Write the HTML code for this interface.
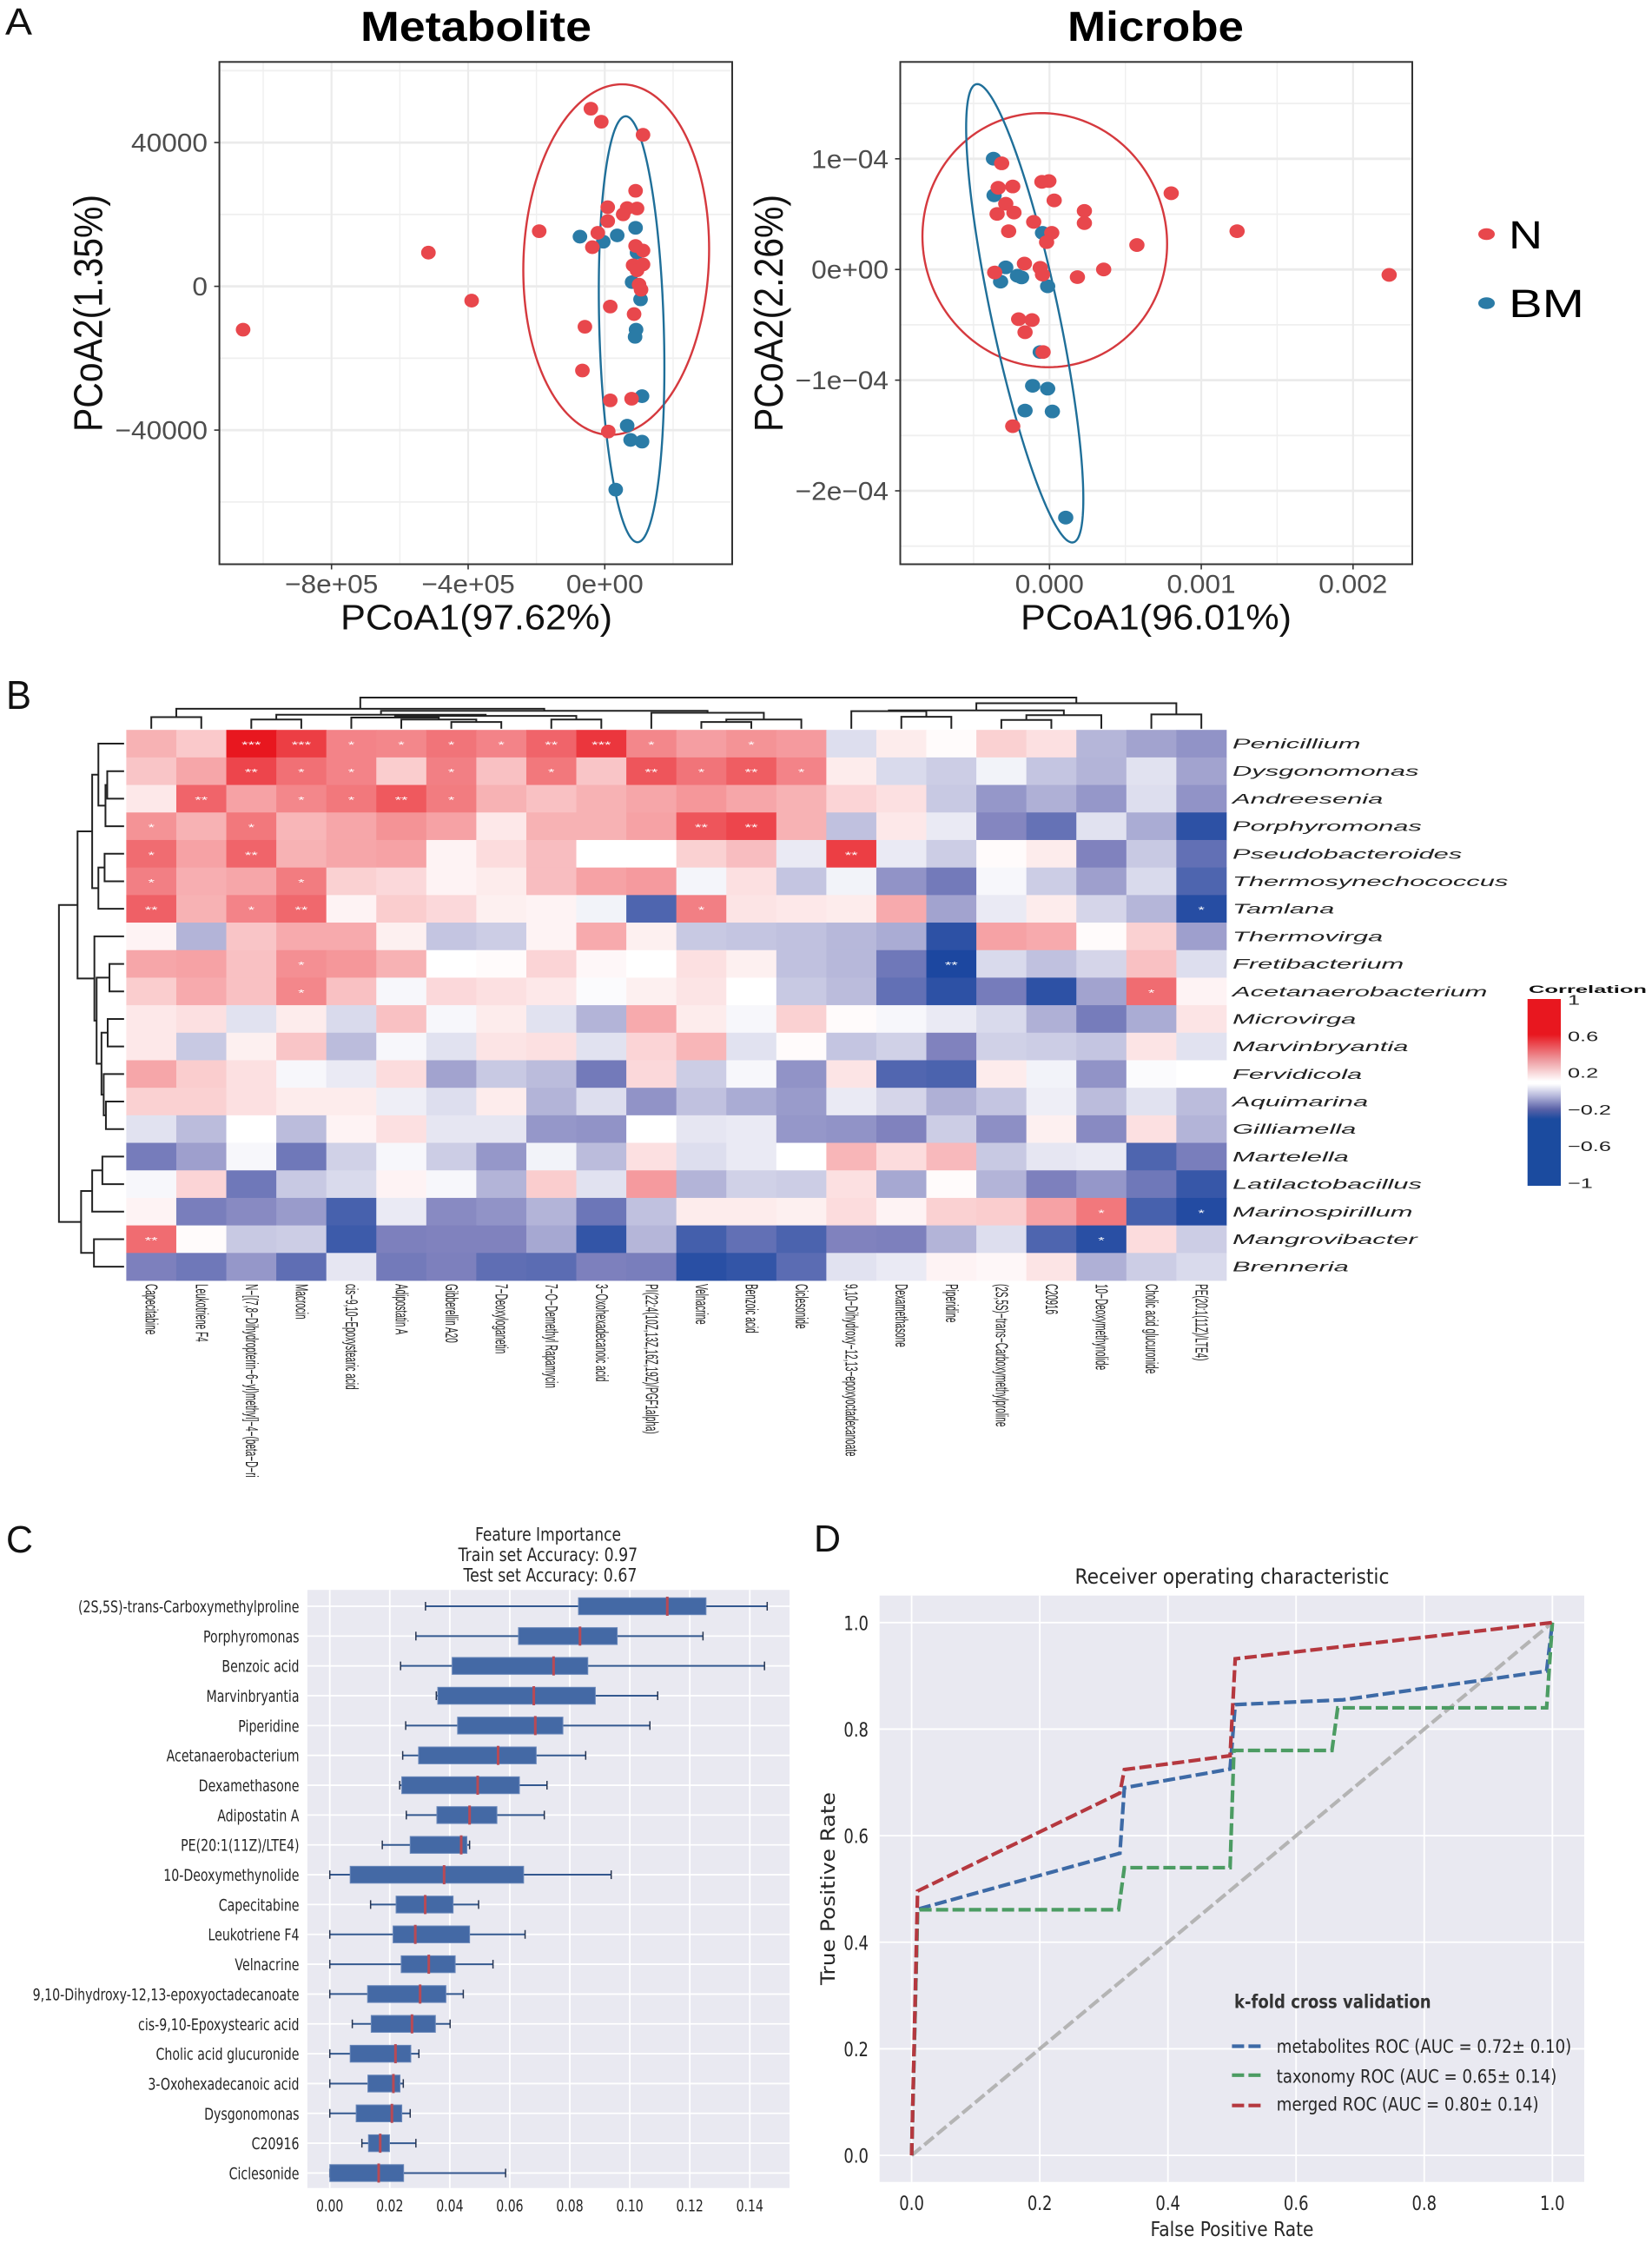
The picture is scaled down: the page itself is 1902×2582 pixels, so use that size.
<!DOCTYPE html>
<html lang="en">
<head>
<meta charset="utf-8">
<title>Metabolite and microbe analysis figure</title>
<style>
html,body{margin:0;padding:0;background:#fff;}
svg{display:block;}
.ls{font-family:"Liberation Sans",sans-serif;}
.dj{font-family:"DejaVu Sans",sans-serif;}
</style>
</head>
<body>
<svg id="figure" xmlns="http://www.w3.org/2000/svg" width="1902" height="2582" viewBox="0 0 1902 2582">
<rect x="0" y="0" width="1902" height="2582" fill="#ffffff"/>
<g class="ls" fill="#000">
  <text x="6" y="40" font-size="43.6" fill="#111" textLength="31" lengthAdjust="spacingAndGlyphs">A</text>
  <text x="415" y="47" font-size="48.6" font-weight="bold" textLength="266" lengthAdjust="spacingAndGlyphs">Metabolite</text>
  <text x="1229" y="47" font-size="48.6" font-weight="bold" textLength="203" lengthAdjust="spacingAndGlyphs">Microbe</text>
  <text x="333" y="127" font-size="23" fill="#5a5a5a" textLength="87" lengthAdjust="spacingAndGlyphs"><tspan font-style="italic">p</tspan>=0.102</text>
  <text x="1447" y="127" font-size="23" fill="#5a5a5a" textLength="87" lengthAdjust="spacingAndGlyphs"><tspan font-style="italic">p</tspan>=0.105</text>
  <text x="392" y="724.7" font-size="41" fill="#111" textLength="313" lengthAdjust="spacingAndGlyphs">PCoA1(97.62%)</text>
  <text x="1175" y="724.7" font-size="41" fill="#111" textLength="312" lengthAdjust="spacingAndGlyphs">PCoA1(96.01%)</text>
  <text transform="translate(117.5 497) rotate(-90)" font-size="46" fill="#111" textLength="273" lengthAdjust="spacingAndGlyphs">PCoA2(1.35%)</text>
  <text transform="translate(901 497) rotate(-90)" font-size="46" fill="#111" textLength="273" lengthAdjust="spacingAndGlyphs">PCoA2(2.26%)</text>
  <ellipse cx="1711.5" cy="269.5" rx="9.5" ry="6.8" fill="#e8474c"/>
  <ellipse cx="1711.5" cy="349" rx="9.5" ry="6.8" fill="#2a7ba6"/>
  <text x="1737" y="286" font-size="45.6" textLength="39" lengthAdjust="spacingAndGlyphs">N</text>
  <text x="1737" y="365" font-size="45.6" textLength="87" lengthAdjust="spacingAndGlyphs">BM</text>
</g>
<g class="ls" fill="#111">
  <text x="7" y="816" font-size="46" textLength="29" lengthAdjust="spacingAndGlyphs">B</text>
  <text x="7" y="1787" font-size="44" textLength="31" lengthAdjust="spacingAndGlyphs">C</text>
  <text x="937" y="1786" font-size="44" textLength="31" lengthAdjust="spacingAndGlyphs">D</text>
</g>
<g id="scatter-metabolite"></g>
<g id="scatter-microbe"></g>
<g id="heatmap"></g>
<g id="colorbar" class="ls">
  <defs>
    <linearGradient id="corr-gradient" x1="0" y1="0" x2="0" y2="1">
      <stop offset="0" stop-color="#e8171f"/>
      <stop offset="0.19" stop-color="#e8171f"/>
      <stop offset="0.33" stop-color="#ee9ea3"/>
      <stop offset="0.44" stop-color="#ffffff"/>
      <stop offset="0.455" stop-color="#ffffff"/>
      <stop offset="0.52" stop-color="#b4b6da"/>
      <stop offset="0.59" stop-color="#5a62a8"/>
      <stop offset="0.643" stop-color="#1b4b9f"/>
      <stop offset="1" stop-color="#1b4b9f"/>
    </linearGradient>
  </defs>
  <text x="1760" y="1143" font-size="12" font-weight="bold" fill="#111" textLength="136" lengthAdjust="spacingAndGlyphs">Correlation</text>
  <rect x="1758.7" y="1150" width="38.3" height="215" fill="url(#corr-gradient)"/>
</g>
<g id="boxplot" class="dj">
  <text x="547" y="1773.3" font-size="21.5" fill="#262626" textLength="168" lengthAdjust="spacingAndGlyphs">Feature Importance</text>
  <text x="527.6" y="1797" font-size="21.5" fill="#262626" textLength="206.6" lengthAdjust="spacingAndGlyphs">Train set Accuracy: 0.97</text>
  <text x="533.5" y="1820.5" font-size="21.5" fill="#262626" textLength="200" lengthAdjust="spacingAndGlyphs">Test set Accuracy: 0.67</text>
</g>
<g id="roc" class="dj">
  <text x="1237.5" y="1823" font-size="24" fill="#262626" textLength="362" lengthAdjust="spacingAndGlyphs">Receiver operating characteristic</text>
  <text x="1324.5" y="2574" font-size="23" fill="#262626" textLength="188" lengthAdjust="spacingAndGlyphs">False Positive Rate</text>
  <text transform="translate(961 2285) rotate(-90)" font-size="22" fill="#262626" textLength="222" lengthAdjust="spacingAndGlyphs">True Positive Rate</text>
</g>
<g id="roc-legend" class="dj">
  <text x="1421" y="2311.4" font-size="21" font-weight="bold" fill="#333" textLength="226.6" lengthAdjust="spacingAndGlyphs">k-fold cross validation</text>
  <line x1="1418.4" y1="2355.5" x2="1452.3" y2="2355.5" stroke="#3d6aa6" stroke-width="4.2" stroke-dasharray="14 5"/>
  <line x1="1418.4" y1="2388.8" x2="1452.3" y2="2388.8" stroke="#4c9c63" stroke-width="4.2" stroke-dasharray="14 5"/>
  <line x1="1418.4" y1="2423.7" x2="1452.3" y2="2423.7" stroke="#b5383f" stroke-width="4.2" stroke-dasharray="14 5"/>
  <text x="1469.8" y="2363" font-size="21.5" fill="#262626" textLength="339.4" lengthAdjust="spacingAndGlyphs">metabolites ROC (AUC = 0.72± 0.10)</text>
  <text x="1469.8" y="2397.4" font-size="21.5" fill="#262626" textLength="322.5" lengthAdjust="spacingAndGlyphs">taxonomy ROC (AUC = 0.65± 0.14)</text>
  <text x="1469.8" y="2429.6" font-size="21.5" fill="#262626" textLength="301.8" lengthAdjust="spacingAndGlyphs">merged ROC (AUC = 0.80± 0.14)</text>
</g>
</svg>
<script>
// ---------- Panel A: metabolite PCoA data ----------
const metaRedX = [-1058900,-516350,-389800,-192000,-40700,-10200,112000,90200,8700,65500,94500,53800,8700,-20400,-36400,90200,112000,82900,112000,94500,100400,106200,16000,85800,-58200,-65500,16000,78500,10200];
const metaRedY = [-12060,9370,-3980,15340,49420,45790,42160,26580,22010,21780,21660,20020,18150,14870,10890,11240,9950,5860,6090,4450,470,-940,-5620,-7730,-11240,-23420,-31730,-31270,-40400];
const metaBlueX = [-72700,-4400,36400,90200,94500,80000,104700,91600,88700,109100,65500,75600,109100,32000];
const metaBlueY = [13820,12410,14170,16280,9370,1170,-3630,-12060,-14050,-30560,-38760,-42740,-43210,-56560];
const metaRedEllipse = [33450,7440,272000,48770,0.06];
const metaBlueEllipse = [78500,-11940,96000,59250,-0.18];
const metaXTicks = [-800000,-400000,0];
const metaXTickLabels = ['−8e+05','−4e+05','0e+00'];
const metaXMinor = [-1000000,-600000,-200000,200000];
const metaYTicks = [40000,0,-40000];
const metaYTickLabels = ['40000','0','−40000'];
const metaYMinor = [60000,20000,-20000,-60000];

// ---------- Panel A: microbe PCoA data (x in 1e-3, y in 1e-4) ----------
const microRedX = [-0.315,-0.338,-0.242,-0.05,-0.004,0.031,-0.288,-0.345,-0.234,0.23,0.23,-0.104,0.802,-0.269,0.015,-0.019,1.236,0.576,-0.165,-0.061,-0.046,-0.361,0.357,0.184,2.238,-0.203,-0.115,-0.161,-0.042,-0.242];
const microRedY = [0.959,0.738,0.75,0.792,0.799,0.624,0.594,0.502,0.514,0.529,0.419,0.43,0.689,0.346,0.331,0.247,0.346,0.221,0.053,0.015,-0.046,-0.027,0,-0.069,-0.049,-0.449,-0.457,-0.567,-0.746,-1.416];
const microBlueX = [-0.369,-0.365,-0.046,-0.288,-0.322,-0.211,-0.184,-0.012,-0.061,-0.111,-0.012,-0.161,0.019,0.107];
const microBlueY = [1.001,0.67,0.331,0.019,-0.11,-0.057,-0.072,-0.152,-0.746,-1.051,-1.077,-1.275,-1.283,-2.242];
const microRedEllipse = [-0.031,0.265,0.806,1.148,-0.03];
const microBlueEllipse = [-0.163,-0.396,0.386,2.071,-0.81];
const microXTicks = [0,1,2];
const microXTickLabels = ['0.000','0.001','0.002'];
const microXMinor = [-0.5,0.5,1.5];
const microYTicks = [1,0,-1,-2];
const microYTickLabels = ['1e−04','0e+00','−1e−04','−2e−04'];
const microYMinor = [1.5,0.5,-0.5,-1.5,-2.5];

// ---------- Panel B: heatmap data ----------
const heatColumns = ['Capecitabine','Leukotriene F4','N−[(7,8−Dihydropterin−6−yl)methyl]−4−(beta−D−ri','Macrocin','cis−9,10−Epoxystearic acid','Adipostatin A','Gibberellin A20','7−Deoxyloganetin','7−O−Demethyl Rapamycin','3−Oxohexadecanoic acid','PI(22:4(10Z,13Z,16Z,19Z)/PGF1alpha)','Velnacrine','Benzoic acid','Ciclesonide','9,10−Dihydroxy−12,13−epoxyoctadecanoate','Dexamethasone','Piperidine','(2S,5S)−trans−Carboxymethylproline','C20916','10−Deoxymethynolide','Cholic acid glucuronide','PE(20:1(11Z)/LTE4)'];
const heatRows = ['Penicillium','Dysgonomonas','Andreesenia','Porphyromonas','Pseudobacteroides','Thermosynechococcus','Tamlana','Thermovirga','Fretibacterium','Acetanaerobacterium','Microvirga','Marvinbryantia','Fervidicola','Aquimarina','Gilliamella','Martelella','Latilactobacillus','Marinospirillum','Mangrovibacter','Brenneria'];
const heatValues = [
[.2,.14,.6,.5,.32,.31,.36,.32,.4,.52,.31,.25,.28,.26,-.08,.05,.01,.12,.08,-.175,-.22,-.26],
[.15,.23,.48,.37,.32,.13,.33,.16,.35,.15,.44,.36,.42,.32,.05,-.09,-.12,-.03,-.14,-.18,-.07,-.22],
[.06,.4,.24,.31,.35,.43,.34,.2,.16,.2,.23,.27,.23,.2,.11,.08,-.13,-.25,-.19,-.25,-.08,-.26],
[.28,.2,.35,.19,.23,.28,.24,.06,.2,.2,.24,.44,.48,.2,-.15,.06,-.05,-.29,-.38,-.07,-.2,-.55],
[.38,.24,.4,.2,.23,.24,.03,.09,.17,0,0,.12,.17,-.05,.5,-.05,-.12,.01,.05,-.3,-.13,-.39],
[.33,.21,.23,.34,.12,.1,.03,.05,.17,.24,.26,-.025,.08,-.14,-.03,-.26,-.34,-.02,-.12,-.23,-.09,-.45],
[.41,.2,.32,.39,.03,.13,.1,.04,.03,-.03,-.45,.33,.07,.06,.05,.22,-.22,-.05,.05,-.1,-.175,-.57],
[.03,-.18,.15,.22,.22,.04,-.14,-.12,.03,.22,.04,-.13,-.14,-.15,-.17,-.2,-.55,.24,.22,.01,.12,-.23],
[.23,.24,.16,.29,.27,.2,0,.01,.11,.02,0,.08,.04,-.15,-.17,-.35,-.6,-.09,-.15,-.1,.16,-.08],
[.13,.22,.16,.31,.16,-.02,.1,.08,.06,-.01,.04,.07,0,-.13,-.16,-.39,-.55,-.33,-.55,-.22,.38,.03],
[.06,.08,-.07,.05,-.09,.16,-.02,.05,-.07,-.18,.22,.05,-.02,.12,.01,-.02,-.05,-.09,-.19,-.33,-.2,.07],
[.06,-.13,.04,.15,-.16,-.02,-.07,.07,.08,-.07,.11,.19,-.07,.01,-.14,-.11,-.3,-.11,-.12,-.14,.07,-.07],
[.23,.13,.08,-.02,-.05,.09,-.22,-.13,-.16,-.34,.1,-.12,-.02,-.26,.07,-.44,-.46,.05,-.03,-.26,-.01,0],
[.12,.12,.08,.05,.05,-.04,-.08,.05,-.18,-.08,-.26,-.15,-.2,-.24,-.05,-.1,-.19,-.14,-.04,-.16,-.07,-.16],
[-.07,-.16,0,-.16,.03,.08,-.06,-.06,-.25,-.26,0,-.06,-.05,-.25,-.26,-.3,-.12,-.27,.04,-.28,.08,-.18],
[-.33,-.23,-.02,-.35,-.11,-.02,-.12,-.25,-.03,-.16,.08,-.08,-.05,0,.19,.09,.18,-.13,-.06,-.05,-.45,-.32],
[-.02,.11,-.35,-.13,-.09,.03,-.02,-.18,.13,-.07,.26,-.18,-.11,-.12,.08,-.21,.01,-.18,-.31,-.25,-.35,-.52],
[.03,-.32,-.28,-.24,-.47,-.05,-.28,-.26,-.18,-.36,-.15,.05,.05,.04,.09,.03,.12,.13,.24,.35,-.47,-.58],
[.38,.01,-.13,-.12,-.5,-.31,-.3,-.3,-.21,-.53,-.175,-.48,-.39,-.46,-.3,-.31,-.18,-.08,-.45,-.56,.09,-.12],
[-.31,-.35,-.25,-.4,-.06,-.34,-.31,-.4,-.41,-.31,-.32,-.56,-.53,-.41,-.07,-.05,.03,.02,.07,-.19,-.12,-.09]
];
const heatStarRow = [0,0,0,0,0,0,0,0,0,0,1,1,1,1,1,1,1,1,1,2,2,2,2,2,3,3,3,3,4,4,4,5,5,6,6,6,6,6,8,8,9,9,17,17,18,18];
const heatStarCol = [2,3,4,5,6,7,8,9,10,12,2,3,4,6,8,10,11,12,13,1,3,4,5,6,0,2,11,12,0,2,14,0,3,0,2,3,11,21,3,16,3,20,19,21,0,19];
const heatStarText = ['***','***','*','*','*','*','**','***','*','*','**','*','*','*','*','**','*','**','*','**','*','*','**','*','*','*','**','**','*','**','**','*','*','**','*','**','*','*','*','**','*','*','*','*','**','*'];
const colorbarTicks = [1,0.6,0.2,-0.2,-0.6,-1];
const colorbarLabels = ['1','0.6','0.2','−0.2','−0.6','−1'];
// dendrogram merges: [childA, childB, height]; integers are leaf indices
const topTree = [[[0,1,29],[[[2,3,23],[[4,[5,[6,7,17],23],28],[8,9,23],32],35],[10,[[11,12,17],13,23],40],45],50],[[[14,[15,16,30],44],[[17,18,22],19,34],46],[20,21,36],64],78];
const leftTree = [[[[0,[[1,2,38],3,42],58],[[4,5,44],6,58],72],[7,[[8,9,33],[[10,11,37],[12,[13,14,41],46],51],62],67],105],[[[15,16,49],17,72],[18,19,68],97],147];

// ---------- Panel C: feature importance data ----------
const featureNames = ['(2S,5S)-trans-Carboxymethylproline','Porphyromonas','Benzoic acid','Marvinbryantia','Piperidine','Acetanaerobacterium','Dexamethasone','Adipostatin A','PE(20:1(11Z)/LTE4)','10-Deoxymethynolide','Capecitabine','Leukotriene F4','Velnacrine','9,10-Dihydroxy-12,13-epoxyoctadecanoate','cis-9,10-Epoxystearic acid','Cholic acid glucuronide','3-Oxohexadecanoic acid','Dysgonomonas','C20916','Ciclesonide'];
const whiskerLow = [.0319,.0287,.0236,.0355,.0253,.0243,.0233,.0255,.0175,0,.0136,0,0,0,.0075,0,0,0,.0107,0];
const quartile1 = [.0829,.0629,.0408,.036,.0426,.0296,.024,.0357,.0268,.0068,.0221,.0211,.0238,.0126,.0138,.0068,.0127,.0088,.0129,0];
const medians = [.1125,.0834,.0746,.068,.0685,.0561,.0493,.0466,.0438,.0381,.0318,.0285,.033,.0301,.0274,.0219,.0212,.0207,.0168,.0163];
const quartile3 = [.1254,.0958,.086,.0885,.0777,.0688,.0632,.0557,.0457,.0646,.0411,.0466,.0418,.0387,.0352,.027,.0234,.024,.0199,.0246];
const whiskerHigh = [.1458,.1244,.1449,.1093,.1067,.0853,.0724,.0715,.0466,.0938,.0496,.0651,.0544,.0445,.0401,.0297,.0245,.0268,.0287,.0586];
const boxXTicks = [0,.02,.04,.06,.08,.1,.12,.14];
const boxXLabels = ['0.00','0.02','0.04','0.06','0.08','0.10','0.12','0.14'];

// ---------- Panel D: ROC data ----------
const rocTicks = [0,.2,.4,.6,.8,1];
const rocTickLabels = ['0.0','0.2','0.4','0.6','0.8','1.0'];
const metabolitesFpr = [0,.0093,.325,.332,.497,.505,.673,.991,1];
const metabolitesTpr = [0,.462,.567,.69,.725,.846,.855,.909,1];
const taxonomyFpr = [0,.0093,.323,.332,.497,.503,.656,.665,.991,1];
const taxonomyTpr = [0,.461,.461,.54,.54,.76,.76,.84,.84,1];
const mergedFpr = [0,.0093,.325,.332,.497,.505,1];
const mergedTpr = [0,.496,.68,.724,.75,.932,1];
const chanceFpr = [0,1];
const chanceTpr = [0,1];

// ---------- helpers ----------
const NS = 'http://www.w3.org/2000/svg';
function add(parent, tag, name, attrs) {
  const el = document.createElementNS(NS, tag);
  for (const k in attrs) el.setAttribute(k, attrs[k]);
  
  
  parent.appendChild(el);
  return el;
}
function label(parent, name, str, x, y, o) {
  o = o || {};
  const sx = o.sx || 1, sy = o.sy || 1, rot = o.rot || 0;
  const el = add(parent, 'text', name, {
    transform: 'translate(' + x + ' ' + y + ')' + (rot ? ' rotate(' + rot + ')' : '') + ' scale(' + sx + ' ' + sy + ')',
    'font-size': o.size || 20,
    'text-anchor': o.anchor || 'start',
    fill: o.fill || '#222',
    'font-family': o.family || '"Liberation Sans", sans-serif'
  });
  if (o.style) el.setAttribute('font-style', o.style);
  el.textContent = str;
  return el;
}
function lineEl(parent, name, x1, y1, x2, y2, stroke, w) {
  return add(parent, 'line', name, {x1: x1, y1: y1, x2: x2, y2: y2, stroke: stroke, 'stroke-width': w});
}
function ellipsePath(e, fx, fy) {
  const d = [];
  for (let i = 0; i <= 180; i++) {
    const t = i / 180 * 2 * Math.PI;
    const x = e[0] + e[2] * Math.cos(t);
    const y = e[1] + e[3] * (e[4] * Math.cos(t) + Math.sqrt(1 - e[4] * e[4]) * Math.sin(t));
    d.push((i ? 'L' : 'M') + fx(x).toFixed(2) + ' ' + fy(y).toFixed(2));
  }
  return d.join('') + 'Z';
}

// ---------- scatter panels ----------
function drawScatter(g, c) {
  add(g, 'rect', 'plot-background', {x: c.l, y: c.t, width: c.r - c.l, height: c.b - c.t, fill: '#fff'});
  c.xMinor.forEach(function (v) { lineEl(g, 'x-minor-gridline', c.fx(v), c.t, c.fx(v), c.b, '#efefef', 1.4); });
  c.yMinor.forEach(function (v) { lineEl(g, 'y-minor-gridline', c.l, c.fy(v), c.r, c.fy(v), '#efefef', 1.8); });
  c.xTicks.forEach(function (v) { lineEl(g, 'x-major-gridline', c.fx(v), c.t, c.fx(v), c.b, '#ebebeb', 2.2); });
  c.yTicks.forEach(function (v) { lineEl(g, 'y-major-gridline', c.l, c.fy(v), c.r, c.fy(v), '#ebebeb', 2.8); });
  add(g, 'path', 'red-group-ellipse', {d: ellipsePath(c.redE, c.fx, c.fy), fill: 'none', stroke: '#d5393e', 'stroke-width': 2.4});
  add(g, 'path', 'blue-group-ellipse', {d: ellipsePath(c.blueE, c.fx, c.fy), fill: 'none', stroke: '#1f6f99', 'stroke-width': 2.4});
  c.blueX.forEach(function (v, i) {
    add(g, 'ellipse', 'bm-point', {cx: c.fx(v), cy: c.fy(c.blueY[i]), rx: c.prx, ry: 7.9, fill: '#2a7ba6'});
  });
  c.redX.forEach(function (v, i) {
    add(g, 'ellipse', 'n-point', {cx: c.fx(v), cy: c.fy(c.redY[i]), rx: c.prx, ry: 7.9, fill: '#e8474c'});
  });
  add(g, 'rect', 'plot-border', {x: c.l, y: c.t, width: c.r - c.l, height: c.b - c.t, fill: 'none', stroke: '#333', 'stroke-width': 2});
  c.xTicks.forEach(function (v, i) {
    lineEl(g, 'x-tick', c.fx(v), c.b, c.fx(v), c.b + 6, '#333', 1.6);
    label(g, 'x-tick-label', c.xLabels[i], c.fx(v), 682.5, {size: 30, anchor: 'middle', sx: 1.055, fill: '#4d4d4d'});
  });
  c.yTicks.forEach(function (v, i) {
    lineEl(g, 'y-tick', c.l - 6, c.fy(v), c.l, c.fy(v), '#333', 1.6);
    label(g, 'y-tick-label', c.yLabels[i], c.labelRight, c.fy(v) + 10.5, {size: 30, anchor: 'end', sx: 1.055, fill: '#4d4d4d'});
  });
}
function metaScaleX(v) { return 696.3 + v / 400000 * 157.3; }
function metaScaleY(v) { return 329.6 - v / 40000 * 165.5; }
function microScaleX(v) { return 1208.3 + v * 174.75; }
function microScaleY(v) { return 310.2 - v * 127.4; }
drawScatter(document.getElementById('scatter-metabolite'), {
  l: 252.6, r: 843, t: 71.3, b: 649.5, fx: metaScaleX, fy: metaScaleY, prx: 8.4, labelRight: 239,
  xTicks: metaXTicks, xLabels: metaXTickLabels, xMinor: metaXMinor, yTicks: metaYTicks, yLabels: metaYTickLabels, yMinor: metaYMinor,
  redX: metaRedX, redY: metaRedY, blueX: metaBlueX, blueY: metaBlueY, redE: metaRedEllipse, blueE: metaBlueEllipse
});
drawScatter(document.getElementById('scatter-microbe'), {
  l: 1036.5, r: 1626, t: 71.3, b: 649.5, fx: microScaleX, fy: microScaleY, prx: 8.8, labelRight: 1023,
  xTicks: microXTicks, xLabels: microXTickLabels, xMinor: microXMinor, yTicks: microYTicks, yLabels: microYTickLabels, yMinor: microYMinor,
  redX: microRedX, redY: microRedY, blueX: microBlueX, blueY: microBlueY, redE: microRedEllipse, blueE: microBlueEllipse
});

// ---------- heatmap ----------
const heatG = document.getElementById('heatmap');
const heatLeft = 145.4, heatTop = 840.2, cellW = 57.57, cellH = 31.69;
function colX(i) { return heatLeft + (i + 0.5) * cellW; }
function rowY(i) { return heatTop + (i + 0.5) * cellH; }
function mix(a, b, t) {
  return 'rgb(' + [0, 1, 2].map(function (k) { return Math.round(a[k] + (b[k] - a[k]) * t); }).join(',') + ')';
}
function corrColor(v) {
  if (v >= 0) return mix([255, 255, 255], [232, 23, 31], Math.min(v / 0.6, 1));
  const a = -v;
  if (a < 0.3) return mix([255, 255, 255], [128, 130, 190], a / 0.3);
  return mix([128, 130, 190], [28, 71, 160], Math.min((a - 0.3) / 0.3, 1));
}
heatValues.forEach(function (row, r) {
  row.forEach(function (v, c) {
    add(heatG, 'rect', 'heatmap-cell', {x: colX(c) - cellW / 2, y: rowY(r) - cellH / 2, width: cellW + 0.4, height: cellH + 0.4, fill: corrColor(v)});
  });
});
heatStarText.forEach(function (s, i) {
  label(heatG, 'significance-mark', s, colX(heatStarCol[i]), rowY(heatStarRow[i]) + 5, {size: 16, anchor: 'middle', sx: 1.2, sy: 0.7, fill: '#fff'});
});
heatRows.forEach(function (n, i) {
  label(heatG, 'row-label', n, 1419, rowY(i) + 5.5, {size: 16, sx: 1.93, style: 'italic', fill: '#222'});
});
heatColumns.forEach(function (n, i) {
  label(heatG, 'column-label', n, colX(i) - 6.5, 1478, {size: 20, sx: 0.5, rot: 90, fill: '#222'});
});
function drawTree(g, node, isTop) {
  if (typeof node === 'number') return {p: isTop ? colX(node) : rowY(node), h: 0};
  const a = drawTree(g, node[0], isTop), b = drawTree(g, node[1], isTop), h = node[2];
  let d;
  if (isTop) {
    const y = function (v) { return 770 + (150 - v) / 2.178; };
    d = 'M' + a.p + ' ' + y(a.h) + 'L' + a.p + ' ' + y(h) + 'L' + b.p + ' ' + y(h) + 'L' + b.p + ' ' + y(b.h);
  } else {
    const x = function (v) { return (280 - v) / 1.96; };
    d = 'M' + x(a.h) + ' ' + a.p + 'L' + x(h) + ' ' + a.p + 'L' + x(h) + ' ' + b.p + 'L' + x(b.h) + ' ' + b.p;
  }
  add(g, 'path', isTop ? 'column-dendrogram-branch' : 'row-dendrogram-branch', {d: d, fill: 'none', stroke: '#222', 'stroke-width': 2});
  return {p: (a.p + b.p) / 2, h: h};
}
drawTree(heatG, topTree, true);
drawTree(heatG, leftTree, false);
const barG = document.getElementById('colorbar');
colorbarTicks.forEach(function (v, i) {
  const y = 1256.3 - v * 105.5 + 5.5;
  label(barG, 'colorbar-tick-label', colorbarLabels[i], 1805, y, {size: 16, sx: 1.58, fill: '#222'});
});

// ---------- boxplot ----------
const boxG = document.getElementById('boxplot');
const boxBg = {l: 353.9, r: 909, t: 1830.2, b: 2518.7};
function boxX(v) { return 379.7 + v / 0.02 * 69.08; }
function boxY(i) { return 1849 + i * 34.34; }
add(boxG, 'rect', 'boxplot-background', {x: boxBg.l, y: boxBg.t, width: boxBg.r - boxBg.l, height: boxBg.b - boxBg.t, fill: '#e9e9f1'});
boxXTicks.forEach(function (v, i) {
  lineEl(boxG, 'x-gridline', boxX(v), boxBg.t, boxX(v), boxBg.b, '#fff', 1.8);
  label(boxG, 'x-tick-label', boxXLabels[i], boxX(v), 2545.6, {size: 19, anchor: 'middle', sx: 0.74, fill: '#262626', family: '"DejaVu Sans", sans-serif'});
});
featureNames.forEach(function (n, i) {
  const y = boxY(i);
  lineEl(boxG, 'y-gridline', boxBg.l, y, boxBg.r, y, '#fff', 1.8);
  label(boxG, 'feature-label', n, 344.5, y + 7, {size: 18.4, anchor: 'end', sx: 0.77, fill: '#262626', family: '"DejaVu Sans", sans-serif'});
  lineEl(boxG, 'whisker-low', boxX(whiskerLow[i]), y, boxX(quartile1[i]), y, '#33588f', 2);
  lineEl(boxG, 'whisker-high', boxX(quartile3[i]), y, boxX(whiskerHigh[i]), y, '#33588f', 2);
  lineEl(boxG, 'cap-low', boxX(whiskerLow[i]), y - 5, boxX(whiskerLow[i]), y + 5, '#26344f', 1.5);
  lineEl(boxG, 'cap-high', boxX(whiskerHigh[i]), y - 5, boxX(whiskerHigh[i]), y + 5, '#26344f', 1.5);
  add(boxG, 'rect', 'importance-box', {x: boxX(quartile1[i]), y: y - 9.7, width: boxX(quartile3[i]) - boxX(quartile1[i]), height: 19.4, fill: '#4469a5', stroke: '#6a88ba', 'stroke-width': 1});
  lineEl(boxG, 'median-line', boxX(medians[i]), y - 11, boxX(medians[i]), y + 11, '#b84a55', 3);
});

// ---------- ROC ----------
const rocG = document.getElementById('roc');
const rocBg = {l: 1012.7, r: 1824, t: 1836.7, b: 2511.7};
function rocX(v) { return 1049.6 + v * 737.7; }
function rocY(v) { return 2481.1 - v * 613.3; }
add(rocG, 'rect', 'roc-background', {x: rocBg.l, y: rocBg.t, width: rocBg.r - rocBg.l, height: rocBg.b - rocBg.t, fill: '#e9e9f1'});
rocTicks.forEach(function (v, i) {
  lineEl(rocG, 'x-gridline', rocX(v), rocBg.t, rocX(v), rocBg.b, '#fff', 1.8);
  lineEl(rocG, 'y-gridline', rocBg.l, rocY(v), rocBg.r, rocY(v), '#fff', 1.8);
  label(rocG, 'x-tick-label', rocTickLabels[i], rocX(v), 2544, {size: 22.5, anchor: 'middle', sx: 0.8, fill: '#262626', family: '"DejaVu Sans", sans-serif'});
  label(rocG, 'y-tick-label', rocTickLabels[i], 1000, rocY(v) + 8.5, {size: 22.5, anchor: 'end', sx: 0.8, fill: '#262626', family: '"DejaVu Sans", sans-serif'});
});
function rocPath(name, fpr, tpr, color) {
  const d = fpr.map(function (v, i) { return (i ? 'L' : 'M') + rocX(v).toFixed(2) + ' ' + rocY(tpr[i]).toFixed(2); }).join('');
  add(rocG, 'path', name, {d: d, fill: 'none', stroke: color, 'stroke-width': 4.2, 'stroke-dasharray': '14 5'});
}
rocPath('chance-line', chanceFpr, chanceTpr, '#b4b4b4');
rocPath('metabolites-roc-line', metabolitesFpr, metabolitesTpr, '#3d6aa6');
rocPath('taxonomy-roc-line', taxonomyFpr, taxonomyTpr, '#4c9c63');
rocPath('merged-roc-line', mergedFpr, mergedTpr, '#b5383f');
// keep the static legend above the plot background
const legendG = document.getElementById('roc-legend');
legendG.parentNode.appendChild(legendG);
</script>
</body>
</html>
